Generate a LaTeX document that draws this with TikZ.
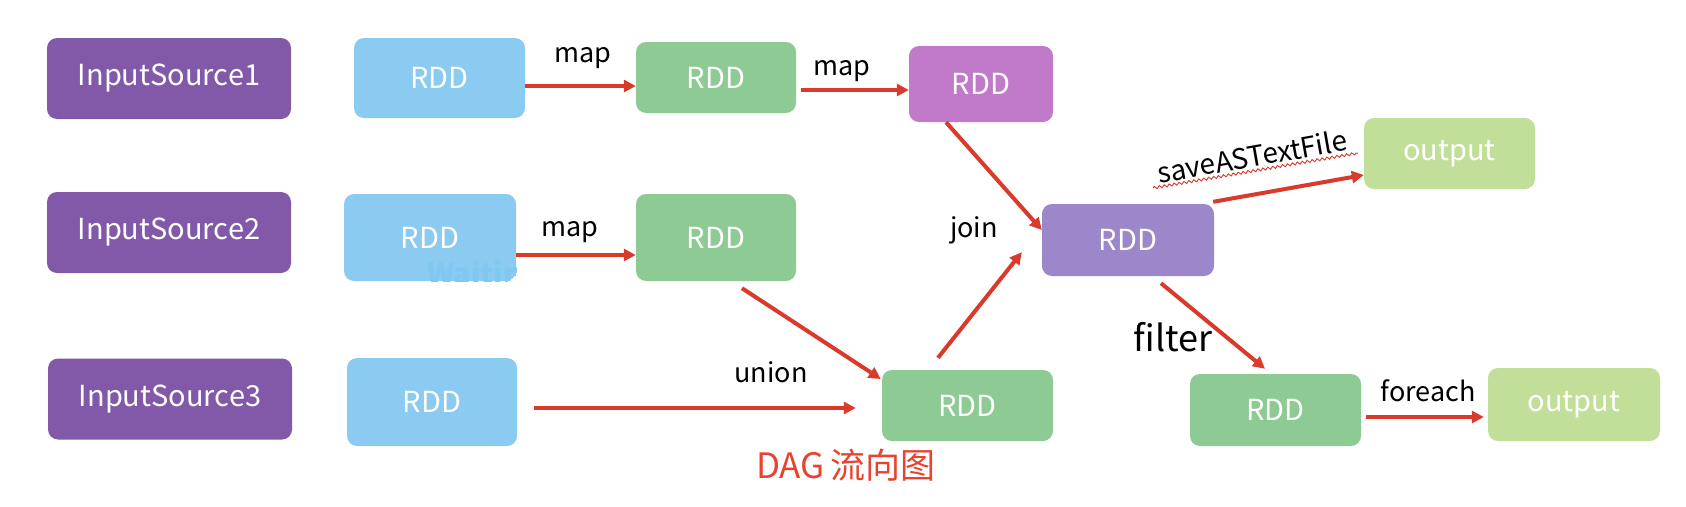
\documentclass[tikz,border=0pt]{standalone}
\usepackage{fontspec}
\setmainfont{Noto Sans CJK SC}
\usetikzlibrary{arrows.meta,positioning,calc,decorations.pathmorphing}
\definecolor{srcpurple}{RGB}{129,89,168}
\definecolor{rddblue}{RGB}{139,203,241}
\definecolor{ghostblue}{RGB}{126,200,242}
\definecolor{rddgreen}{RGB}{142,202,147}
\definecolor{rddpink}{RGB}{193,122,202}
\definecolor{rddlav}{RGB}{155,135,201}
\definecolor{outgreen}{RGB}{194,223,154}
\definecolor{flowred}{RGB}{217,58,43}
\definecolor{titlered}{RGB}{232,67,46}
\tikzset{
  box/.style={rounded corners=10pt, inner sep=0pt, text=white,
    font=\fontsize{29}{35}\selectfont},
  srcbox/.style={box, fill=srcpurple, minimum width=244pt, minimum height=81pt},
  rdd/.style={box, minimum width=171pt, minimum height=72pt},
  flow/.style={-{Triangle[length=12pt,width=12pt]}, line width=4pt, flowred},
  oplabel/.style={inner sep=0pt, font=\fontsize{27}{32}\selectfont},
  squiggle/.style={flowred, line width=0.9pt,
    decorate, decoration={snake, amplitude=1.3pt, segment length=5pt}},
}

\begin{document}
\begin{tikzpicture}[x=1pt,y=-1pt]
  \useasboundingbox[fill=white] (0,0) rectangle (1686,506);
  % input sources
  \node[srcbox] (is1) at (169,78.5) {InputSource1};
  \node[srcbox] (is2) at (169,232.5) {InputSource2};
  \node[srcbox] (is3) at (170,399) {InputSource3};
  % source rdds
  \node[rdd, fill=rddblue, minimum height=80pt] (b1) at (439.5,78) {RDD};
  \node[rdd, fill=rddblue, minimum width=172pt, minimum height=87pt] (b2) at (430,237.5) {RDD};
  \node[rdd, fill=rddblue, minimum width=170pt, minimum height=88pt] (b3) at (432,402) {RDD};
  \begin{scope}
    \clip[rounded corners=10pt] (b2.south west) rectangle (b2.north east);
    \node[inner sep=0pt, anchor=base west, text=ghostblue,
      font=\fontsize{29}{35}\selectfont\bfseries] (wait) at (427,284) {Waiting};
  \end{scope}
  % mapped rdds
  \node[rdd, fill=rddgreen, minimum width=160pt, minimum height=71pt] (g1) at (716,77.5) {RDD};
  \node[rdd, fill=rddgreen, minimum width=160pt, minimum height=87pt] (g2) at (716,237.5) {RDD};
  \node[rdd, fill=rddpink, minimum width=144pt, minimum height=76pt] (p1) at (981,84) {RDD};
  \node[rdd, fill=rddgreen, minimum height=71pt] (un) at (967.5,405.5) {RDD};
  \node[rdd, fill=rddlav, minimum width=172pt] (jn) at (1128,240) {RDD};
  \node[rdd, fill=rddgreen] (ft) at (1275.5,410) {RDD};
  % outputs
  \node[rdd, fill=outgreen, minimum height=71pt] (o1) at (1449.5,153.5) {output};
  \node[rdd, fill=outgreen, minimum width=172pt, minimum height=73pt] (o2) at (1574,404.5) {output};

  % transformations
  \draw[flow] ($(b1.east)+(0,8)$) -- ($(g1.west)+(0,8.5)$);
  \node[oplabel] (lmap1) at (583,58) {map};
  \draw[flow] ($(g1.east)+(5,12.5)$) -- ($(p1.west)+(0,6)$);
  \node[oplabel] (lmap2) at (842,71) {map};
  \draw[flow] ($(b2.east)+(0,17.5)$) -- ($(g2.west)+(0,17.5)$);
  \node[oplabel] (lmap3) at (570,232) {map};
  \draw[flow] ($(g2.south)+(26,7)$) -- ($(un.west)+(-1,-26.5)$);
  \draw[flow] ($(b3.east)+(17,6)$) -- ($(un.west)+(-26,2.5)$);
  \node[oplabel] (lunion) at (771,372) {union};
  \draw[flow] ($(un.north)+(-29.5,-12)$) -- ($(jn.south west)+(-20,-24)$);
  \draw[flow] ($(p1.south)+(-35,0)$) -- ($(jn.west)+(0,-10)$);
  \node[oplabel] (ljoin) at (974,230) {join};
  \draw[flow] ($(jn.north east)+(-1,-2)$) -- ($(o1.west)+(0,21.5)$);
  \node[oplabel, rotate=10, font=\fontsize{28}{33}\selectfont] (lsave) at (1252,156) {saveASTextFile};
  \draw[squiggle] (1153,188) -- (1358,153);
  \draw[flow] ($(jn.south)+(33,7)$) -- ($(ft.north)+(-10.5,-5)$);
  \node[oplabel, font=\fontsize{36}{42}\selectfont] (lfilter) at (1173,337) {filter};
  \draw[flow] ($(ft.east)+(5,7)$) -- ($(o2.west)+(-4,12.5)$);
  \node[oplabel] (lforeach) at (1428,391) {foreach};
  % caption
  \node[inner sep=0pt, text=titlered, font=\fontsize{35}{42}\selectfont] (title) at (846,465) {DAG\,流向图};
\end{tikzpicture}
\end{document}
